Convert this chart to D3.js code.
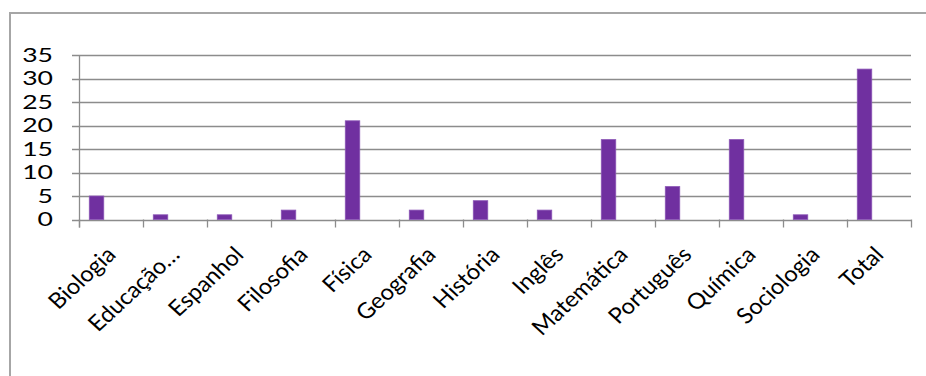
<!DOCTYPE html>
<html>
<head>
<meta charset="utf-8">
<script src="https://cdn.jsdelivr.net/npm/d3@7"></script>
<style>
  body { margin: 0; background: #fff; }
  svg text { font-family: Lato, "Open Sans", sans-serif; fill: #000; }
</style>
</head>
<body>
<svg id="chart" width="926" height="376"></svg>
<script>
	'use strict';

	var categories = ['Biologia', 'Educação…', 'Espanhol', 'Filosofia', 'Física', 'Geografia',
		'História', 'Inglês', 'Matemática', 'Português', 'Química', 'Sociologia', 'Total'];
	var values = [5, 1, 1, 2, 21, 2, 4, 2, 17, 7, 17, 1, 32];
	var yTicks = [0, 5, 10, 15, 20, 25, 30, 35];
	// excel left room for 3 series, only the first one has values
	var seriesSlots = ['s1', 's2', 's3'];

	// the source picture is stretched sideways, so text is too
	var stretch = 1.08;
	var numStretch = 1.4;

	var svg = d3.select('#chart');

	// outer chart frame (runs off the picture at right/bottom)
	svg.append('rect')
		.attr('x', 10).attr('y', 13)
		.attr('width', 930).attr('height', 380)
		.attr('fill', 'none')
		.attr('stroke', '#a6a6a6')
		.attr('stroke-width', 2);

	var plot = { left: 79, right: 911, top: 55, bottom: 219.5 };

	var x = d3.scaleBand()
		.domain(categories)
		.range([plot.left, plot.right]);

	var xInner = d3.scaleBand()
		.domain(seriesSlots)
		.range([0, x.bandwidth()])
		.paddingOuter(0.71);

	var y = d3.scaleLinear()
		.domain([0, 35])
		.range([plot.bottom, plot.top]);

	// gridlines
	svg.append('g')
		.selectAll('line')
		.data(yTicks)
		.enter()
		.append('line')
		.attr('x1', plot.left - 7)
		.attr('x2', plot.right)
		.attr('y1', function (d) { return Math.round(y(d)) + 0.5; })
		.attr('y2', function (d) { return Math.round(y(d)) + 0.5; })
		.attr('stroke', '#8c8c8c')
		.attr('stroke-width', 1.3);

	// y axis line
	svg.append('line')
		.attr('x1', plot.left + 0.5).attr('x2', plot.left + 0.5)
		.attr('y1', plot.top).attr('y2', plot.bottom + 8)
		.attr('stroke', '#8c8c8c')
		.attr('stroke-width', 1.3);

	// category tick marks
	var tickPos = categories.map(function (c) { return x(c); }).concat([plot.right]);
	svg.append('g')
		.selectAll('line')
		.data(tickPos)
		.enter()
		.append('line')
		.attr('x1', function (d) { return Math.round(d) + 0.5; })
		.attr('x2', function (d) { return Math.round(d) + 0.5; })
		.attr('y1', plot.bottom)
		.attr('y2', plot.bottom + 8)
		.attr('stroke', '#8c8c8c')
		.attr('stroke-width', 1.3);

	// y labels
	svg.append('g')
		.selectAll('text')
		.data(yTicks)
		.enter()
		.append('text')
		.attr('text-anchor', 'end')
		.attr('dy', '0.36em')
		.attr('transform', function (d) {
			return 'translate(53,' + y(d) + ') scale(' + numStretch + ',1)';
		})
		.style('font-size', '19px')
		.text(function (d) { return d; });

	// bars
	svg.append('g')
		.selectAll('rect')
		.data(values)
		.enter()
		.append('rect')
		.attr('x', function (d, i) { return x(categories[i]) + xInner('s1'); })
		.attr('y', function (d) { return y(d); })
		.attr('width', xInner.bandwidth())
		.attr('height', function (d) { return y(0) - y(d); })
		.attr('fill', '#7030a0')
		.attr('stroke', '#8a55b5')
		.attr('stroke-width', 0.8);

	// category labels, rotated
	svg.append('g')
		.selectAll('text')
		.data(categories)
		.enter()
		.append('text')
		.attr('text-anchor', 'end')
		.attr('transform', function (d) {
			var cx = x(d) + x.bandwidth() / 2 + 6;
			return 'translate(' + cx + ',256) scale(' + stretch + ',1) rotate(-45)';
		})
		.style('font-size', '22px')
		.text(function (d) { return d; });
</script>
</body>
</html>
